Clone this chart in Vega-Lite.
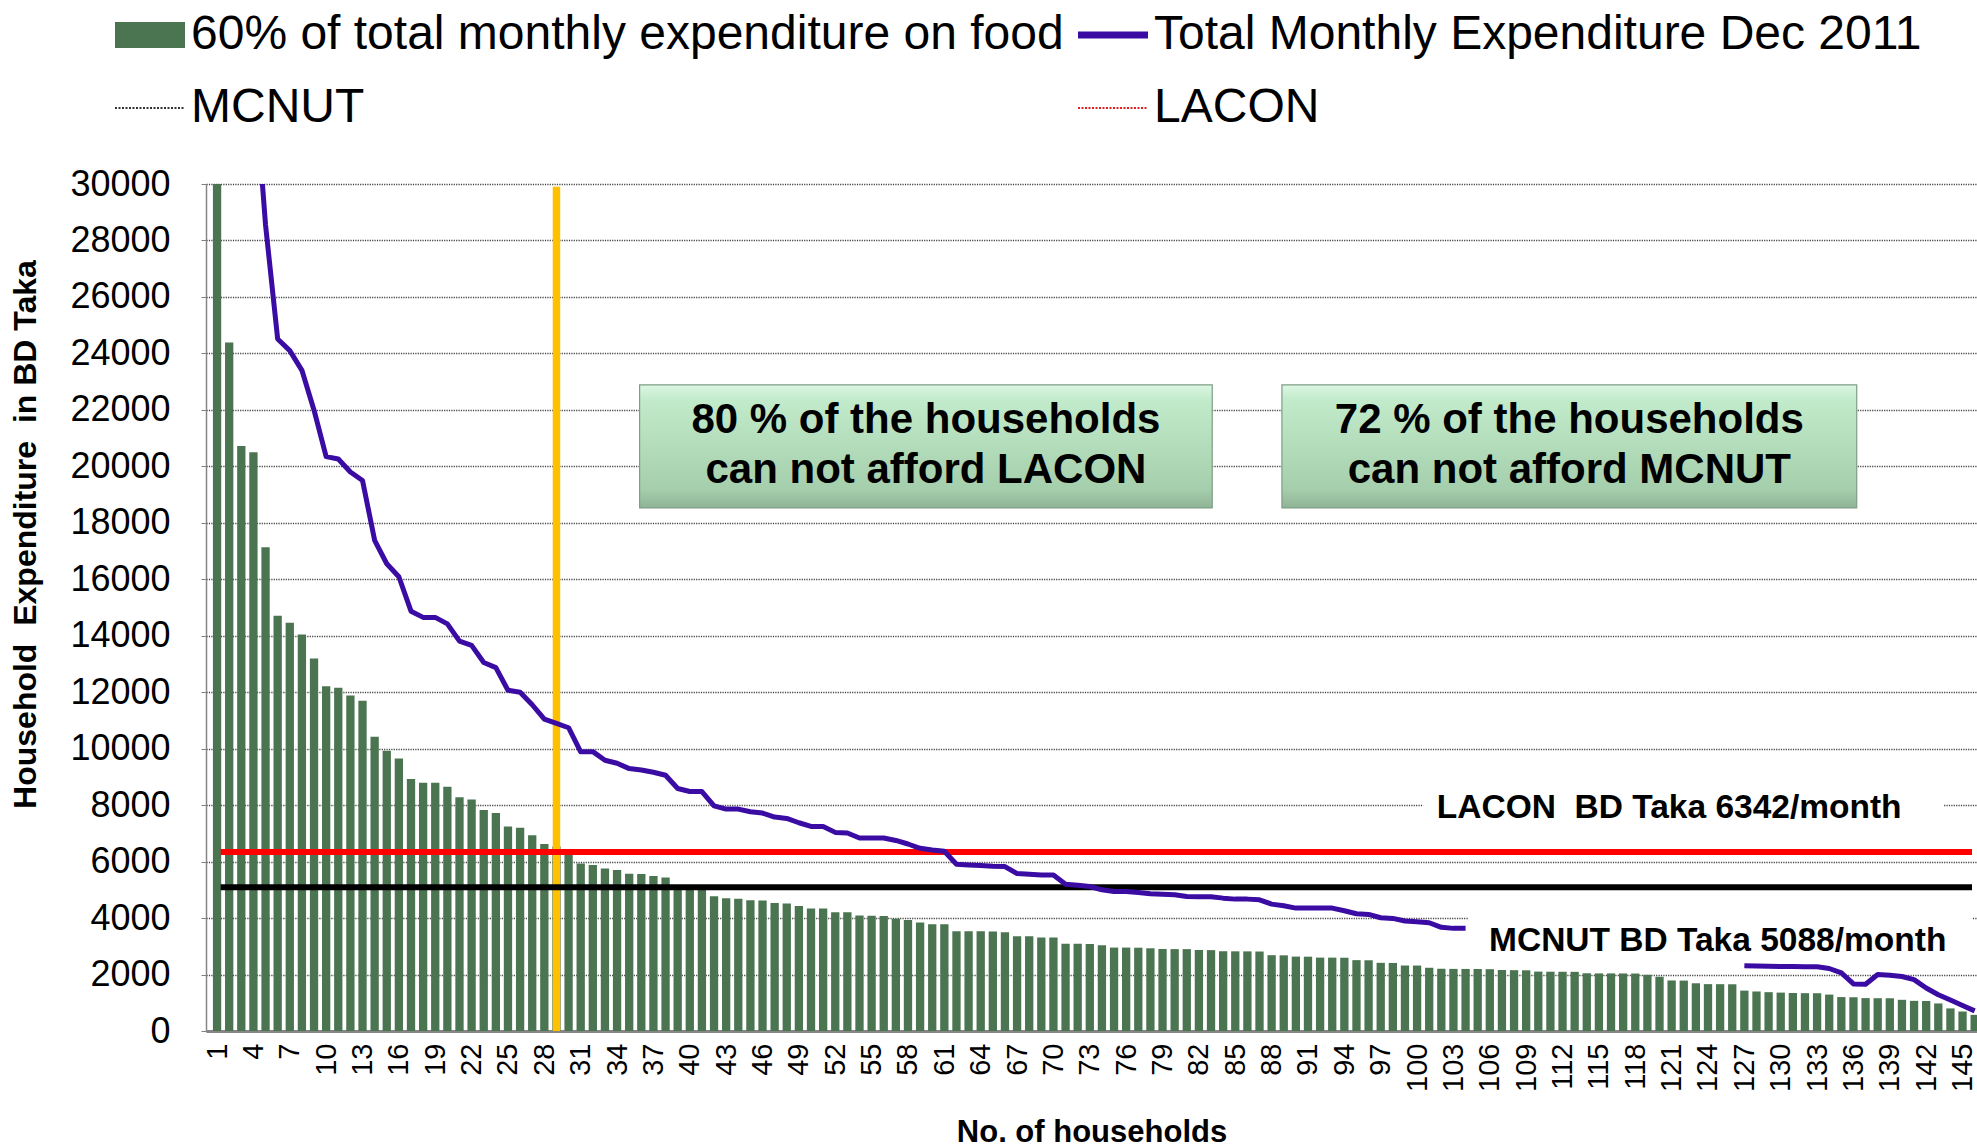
{
  "$schema": "https://vega.github.io/schema/vega-lite/v6.json",
  "width": 1771,
  "height": 847,
  "autosize": {"type": "none"},
  "padding": {"left": 206, "top": 184, "right": 0, "bottom": 116},
  "background": "white",
  "config": {
    "view": {"stroke": null},
    "font": "Liberation Sans",
    "axis": {"labelFont": "Liberation Sans", "titleFont": "Liberation Sans", "labelColor": "black", "titleColor": "black"},
    "axisX": {"labelAngle": -90, "labelFontSize": 29, "labelPadding": 12, "ticks": false, "labelOverlap": false, "labelFlush": false, "labelSeparation": 0, "tickCount": 200,
      "domainColor": "#868686", "domainWidth": 3, "grid": false,
      "titleFontSize": 31, "titleFontWeight": "bold", "titleY": 101, "titleBaseline": "middle"},
    "axisY": {"labelFontSize": 36, "labelPadding": 31, "tickSize": 5, "tickColor": "#808080", "labelOverlap": false,
      "domainColor": "#868686", "domainWidth": 1.5,
      "grid": true, "gridColor": "#444444", "gridDash": [1.2, 1.2], "gridWidth": 1.3,
      "titleFontSize": 32, "titleFontWeight": "bold", "titleX": -181, "titleY": 350, "titleBaseline": "middle", "titleAngle": -90}
  },
  "datasets": {
    "hh": [
      {"h":1,"food":32000,"total":53330},{"h":2,"food":24390,"total":40650},{"h":3,"food":20720,"total":34530},{"h":4,"food":20500,"total":34170},{"h":5,"food":17130,"total":28550},
      {"h":6,"food":14710,"total":24510},{"h":7,"food":14460,"total":24100},{"h":8,"food":14040,"total":23400},{"h":9,"food":13195,"total":21990},{"h":10,"food":12207,"total":20345},
      {"h":11,"food":12155,"total":20260},{"h":12,"food":11880,"total":19800},{"h":13,"food":11700,"total":19500},{"h":14,"food":10425,"total":17380},{"h":15,"food":9930,"total":16550},
      {"h":16,"food":9655,"total":16090},{"h":17,"food":8924,"total":14870},{"h":18,"food":8790,"total":14650},{"h":19,"food":8790,"total":14650},{"h":20,"food":8653,"total":14420},
      {"h":21,"food":8283,"total":13810},{"h":22,"food":8197,"total":13660},{"h":23,"food":7830,"total":13050},{"h":24,"food":7720,"total":12870},{"h":25,"food":7245,"total":12070},
      {"h":26,"food":7200,"total":12000},{"h":27,"food":6935,"total":11555},{"h":28,"food":6627,"total":11045},{"h":29,"food":6536,"total":10894},{"h":30,"food":6445,"total":10741},
      {"h":31,"food":5930,"total":9890},{"h":32,"food":5880,"total":9894},{"h":33,"food":5754,"total":9590},{"h":34,"food":5700,"total":9482},{"h":35,"food":5572,"total":9294},
      {"h":36,"food":5560,"total":9247},{"h":37,"food":5490,"total":9165},{"h":38,"food":5435,"total":9059},{"h":39,"food":5153,"total":8588},{"h":40,"food":5089,"total":8482},
      {"h":41,"food":5089,"total":8482},{"h":42,"food":4770,"total":7976},{"h":43,"food":4705,"total":7859},{"h":44,"food":4680,"total":7859},{"h":45,"food":4630,"total":7765},
      {"h":46,"food":4620,"total":7718},{"h":47,"food":4535,"total":7576},{"h":48,"food":4520,"total":7529},{"h":49,"food":4425,"total":7376},{"h":50,"food":4342,"total":7247},
      {"h":51,"food":4340,"total":7247},{"h":52,"food":4210,"total":7035},{"h":53,"food":4205,"total":7012},{"h":54,"food":4090,"total":6835},{"h":55,"food":4080,"total":6835},
      {"h":56,"food":4075,"total":6835},{"h":57,"food":3975,"total":6750},{"h":58,"food":3930,"total":6624},{"h":59,"food":3840,"total":6470},{"h":60,"food":3785,"total":6412},
      {"h":61,"food":3785,"total":6365},{"h":62,"food":3530,"total":5906},{"h":63,"food":3530,"total":5882},{"h":64,"food":3530,"total":5859},{"h":65,"food":3525,"total":5835},
      {"h":66,"food":3495,"total":5824},{"h":67,"food":3360,"total":5576},{"h":68,"food":3355,"total":5553},{"h":69,"food":3310,"total":5529},{"h":70,"food":3310,"total":5529},
      {"h":71,"food":3090,"total":5200},{"h":72,"food":3090,"total":5165},{"h":73,"food":3085,"total":5118},{"h":74,"food":3035,"total":5000},{"h":75,"food":2955,"total":4941},
      {"h":76,"food":2955,"total":4941},{"h":77,"food":2950,"total":4906},{"h":78,"food":2930,"total":4859},{"h":79,"food":2905,"total":4847},{"h":80,"food":2900,"total":4824},
      {"h":81,"food":2900,"total":4765},{"h":82,"food":2870,"total":4753},{"h":83,"food":2865,"total":4753},{"h":84,"food":2825,"total":4706},{"h":85,"food":2822,"total":4671},
      {"h":86,"food":2820,"total":4671},{"h":87,"food":2815,"total":4647},{"h":88,"food":2685,"total":4494},{"h":89,"food":2680,"total":4435},{"h":90,"food":2635,"total":4353},
      {"h":91,"food":2632,"total":4353},{"h":92,"food":2600,"total":4353},{"h":93,"food":2598,"total":4353},{"h":94,"food":2595,"total":4259},{"h":95,"food":2510,"total":4153},
      {"h":96,"food":2505,"total":4129},{"h":97,"food":2415,"total":4012},{"h":98,"food":2410,"total":3988},{"h":99,"food":2320,"total":3894},{"h":100,"food":2318,"total":3871},
      {"h":101,"food":2240,"total":3835},{"h":102,"food":2205,"total":3671},{"h":103,"food":2200,"total":3635},{"h":104,"food":2198,"total":3635},{"h":105,"food":2196,"total":null},
      {"h":106,"food":2190,"total":null},{"h":107,"food":2160,"total":null},{"h":108,"food":2155,"total":null},{"h":109,"food":2150,"total":null},{"h":110,"food":2104,"total":null},
      {"h":111,"food":2100,"total":null},{"h":112,"food":2098,"total":null},{"h":113,"food":2096,"total":null},{"h":114,"food":2045,"total":null},{"h":115,"food":2040,"total":null},
      {"h":116,"food":2040,"total":null},{"h":117,"food":2038,"total":null},{"h":118,"food":2035,"total":null},{"h":119,"food":1990,"total":null},{"h":120,"food":1922,"total":null},
      {"h":121,"food":1790,"total":null},{"h":122,"food":1785,"total":null},{"h":123,"food":1690,"total":null},{"h":124,"food":1660,"total":null},{"h":125,"food":1658,"total":null},
      {"h":126,"food":1655,"total":null},{"h":127,"food":1430,"total":2310},{"h":128,"food":1400,"total":2298},{"h":129,"food":1375,"total":2292},{"h":130,"food":1360,"total":2286},
      {"h":131,"food":1345,"total":2286},{"h":132,"food":1340,"total":2280},{"h":133,"food":1338,"total":2274},{"h":134,"food":1290,"total":2214},{"h":135,"food":1202,"total":2060},
      {"h":136,"food":1195,"total":1667},{"h":137,"food":1165,"total":1655},{"h":138,"food":1162,"total":2000},{"h":139,"food":1160,"total":1976},{"h":140,"food":1105,"total":1929},
      {"h":141,"food":1068,"total":1821},{"h":142,"food":1063,"total":1524},{"h":143,"food":976,"total":1286},{"h":144,"food":800,"total":1095},{"h":145,"food":690,"total":905},
      {"h":146,"food":571,"total":714}
    ]
  },
  "layer": [
    {
      "data": {"name": "hh"},
      "mark": {"type": "bar", "size": 8.3, "clip": true},
      "encoding": {
        "x": {"field": "h", "type": "quantitative",
          "scale": {"domain": [0.5, 145.78], "nice": false, "zero": false},
          "axis": {"title": "No. of households", "labelOverlap": false, "tickCount": 200, "values": [1,4,7,10,13,16,19,22,25,28,31,34,37,40,43,46,49,52,55,58,61,64,67,70,73,76,79,82,85,88,91,94,97,100,103,106,109,112,115,118,121,124,127,130,133,136,139,142,145]}},
        "y": {"field": "food", "type": "quantitative",
          "scale": {"domain": [0, 30000], "nice": false},
          "axis": {"title": "Household\u00a0 Expenditure\u00a0 in BD Taka", "format": "d", "tickCount": 40, "values": [0,2000,4000,6000,8000,10000,12000,14000,16000,18000,20000,22000,24000,26000,28000,30000]}},
        "color": {"datum": "60% of total monthly expenditure on food",
          "scale": {"domain": ["60% of total monthly expenditure on food", "MCNUT", "Total Monthly Expenditure Dec 2011", "LACON"],
                    "range": ["#4B7451", "#000000", "#3A0CA3", "#FF0000"]},
          "legend": {"title": null, "orient": "none", "legendX": -80, "legendY": -173, "columns": 2,
            "labelFont": "Liberation Sans", "labelFontSize": 48, "labelColor": "black", "labelLimit": 2000, "labelOffset": 17,
            "columnPadding": 0, "rowPadding": 25, "padding": 0, "symbolSize": 4900,
            "encode": {"symbols": {"update": {
              "shape": {"signal": "datum.value === '60% of total monthly expenditure on food' ? 'M-1,-0.37H1V0.37H-1Z' : 'M-1,0H1'"},
              "fill": {"signal": "datum.value === '60% of total monthly expenditure on food' ? '#4B7451' : 'transparent'"},
              "stroke": {"signal": "datum.value === '60% of total monthly expenditure on food' ? '#4B7451' : datum.value === 'Total Monthly Expenditure Dec 2011' ? '#3A0CA3' : datum.value === 'MCNUT' ? '#333333' : '#E02020'"},
              "strokeWidth": {"signal": "datum.value === 'Total Monthly Expenditure Dec 2011' ? 7 : datum.value === '60% of total monthly expenditure on food' ? 0 : 2"},
              "strokeDash": {"signal": "(datum.value === 'MCNUT' || datum.value === 'LACON') ? [2, 1.5] : [1, 0]"},
              "opacity": {"value": 1},
              "size": {"value": 4900}
            }}}}
        }
      }
    },
    {
      "data": {"values": [{}]},
      "mark": {"type": "rule", "color": "#FFC000", "strokeWidth": 7.5},
      "encoding": {"x": {"datum": 29}, "y": {"datum": 0}, "y2": {"datum": 29900}}
    },
    {
      "data": {"values": [{}]},
      "mark": {"type": "rule", "color": "#FF0000", "strokeWidth": 6, "clip": true},
      "encoding": {"x": {"datum": 1.3}, "x2": {"datum": 145.78}, "y": {"datum": 6342}}
    },
    {
      "data": {"values": [{}]},
      "mark": {"type": "rule", "color": "#000000", "strokeWidth": 6, "clip": true},
      "encoding": {"x": {"datum": 1.3}, "x2": {"datum": 145.78}, "y": {"datum": 5088}}
    },
    {
      "data": {"values": [{}]},
      "mark": {"type": "rect", "color": "white", "clip": true},
      "encoding": {"x": {"datum": 100.5}, "x2": {"datum": 143.4}, "y": {"datum": 7300}, "y2": {"datum": 8500}}
    },
    {
      "data": {"values": [{}]},
      "mark": {"type": "rect", "color": "white", "clip": true},
      "encoding": {"x": {"datum": 104.2}, "x2": {"datum": 145.78}, "y": {"datum": 2420}, "y2": {"datum": 4150}}
    },
    {
      "data": {"name": "hh"},
      "mark": {"type": "line", "color": "#3A0CA3", "strokeWidth": 5, "clip": true, "invalid": "break-paths-show-domains", "strokeJoin": "round"},
      "encoding": {
        "x": {"field": "h", "type": "quantitative", "axis": {"title": "No. of households", "labelOverlap": false, "tickCount": 200, "values": [1,4,7,10,13,16,19,22,25,28,31,34,37,40,43,46,49,52,55,58,61,64,67,70,73,76,79,82,85,88,91,94,97,100,103,106,109,112,115,118,121,124,127,130,133,136,139,142,145]}},
        "y": {"field": "total", "type": "quantitative", "title": "Household\u00a0 Expenditure\u00a0 in BD Taka"}
      }
    },
    {
      "data": {"values": [{}]},
      "mark": {"type": "text", "text": "LACON\u00a0 BD Taka 6342/month", "font": "Liberation Sans", "fontWeight": "bold", "fontSize": 33.5, "color": "black", "align": "center", "baseline": "middle"},
      "encoding": {"x": {"datum": 120.8}, "y": {"datum": 7900}}
    },
    {
      "data": {"values": [{}]},
      "mark": {"type": "text", "text": "MCNUT BD Taka 5088/month", "font": "Liberation Sans", "fontWeight": "bold", "fontSize": 33.5, "color": "black", "align": "center", "baseline": "middle"},
      "encoding": {"x": {"datum": 124.8}, "y": {"datum": 3202}}
    },
    {
      "data": {"values": [{}]},
      "mark": {"type": "rect", "stroke": "#7E9E85", "strokeWidth": 1.2,
        "fill": {"gradient": "linear", "x1": 0, "y1": 0, "x2": 0, "y2": 1,
          "stops": [{"offset": 0, "color": "#DDF7E3"}, {"offset": 0.12, "color": "#C2EBCB"}, {"offset": 0.85, "color": "#A5CEAC"}, {"offset": 1, "color": "#8FB396"}]}},
      "encoding": {"x": {"datum": 35.86}, "x2": {"datum": 83.1}, "y": {"datum": 22883}, "y2": {"datum": 18526}}
    },
    {
      "data": {"values": [{}]},
      "mark": {"type": "rect", "stroke": "#7E9E85", "strokeWidth": 1.2,
        "fill": {"gradient": "linear", "x1": 0, "y1": 0, "x2": 0, "y2": 1,
          "stops": [{"offset": 0, "color": "#DDF7E3"}, {"offset": 0.12, "color": "#C2EBCB"}, {"offset": 0.85, "color": "#A5CEAC"}, {"offset": 1, "color": "#8FB396"}]}},
      "encoding": {"x": {"datum": 88.85}, "x2": {"datum": 136.27}, "y": {"datum": 22883}, "y2": {"datum": 18526}}
    },
    {
      "data": {"values": [{}]},
      "mark": {"type": "text", "text": ["80 % of the households", "can not afford LACON"], "font": "Liberation Sans", "fontWeight": "bold", "fontSize": 42, "lineHeight": 50, "color": "black", "align": "center", "baseline": "middle"},
      "encoding": {"x": {"datum": 59.48}, "y": {"datum": 21650}}
    },
    {
      "data": {"values": [{}]},
      "mark": {"type": "text", "text": ["72 % of the households", "can not afford MCNUT"], "font": "Liberation Sans", "fontWeight": "bold", "fontSize": 42, "lineHeight": 50, "color": "black", "align": "center", "baseline": "middle"},
      "encoding": {"x": {"datum": 112.56}, "y": {"datum": 21650}}
    }
  ]
}
